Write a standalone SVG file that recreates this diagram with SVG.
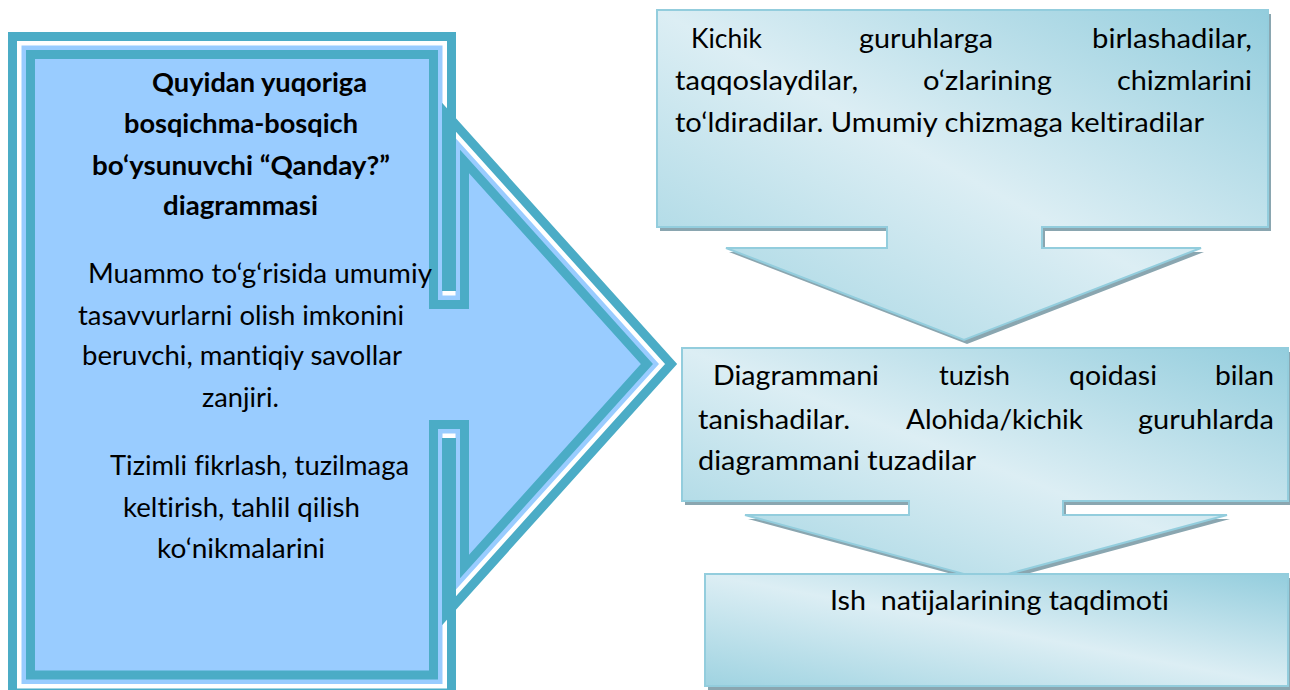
<svg xmlns="http://www.w3.org/2000/svg" width="1290" height="690" viewBox="0 0 1290 690">
<defs>
<linearGradient id="boxGrad" x1="0" y1="1" x2="1" y2="0">
<stop offset="0" stop-color="#9fd3e1"/>
<stop offset="0.5" stop-color="#dcEef4"/>
<stop offset="1" stop-color="#93cddd"/>
</linearGradient>
<style>
.mfill{fill:#99ccff;stroke:none}
.mline{fill:none;stroke:#4bacc6;stroke-width:9;stroke-linejoin:miter;stroke-miterlimit:10}
.box{fill:url(#boxGrad);stroke:#93cddd;stroke-width:2;stroke-linejoin:miter}
.shadow{fill:#8aa6b0;stroke:none}
.t{font-family:Lato,"Open Sans","Liberation Sans",sans-serif;font-size:27px;fill:#000;font-variant-ligatures:none;font-feature-settings:"liga" 0,"clig" 0}
.tb{font-family:Lato,"Open Sans","Liberation Sans",sans-serif;font-size:27px;font-weight:bold;fill:#000;font-variant-ligatures:none;font-feature-settings:"liga" 0,"clig" 0}
</style>
</defs>
<rect width="1290" height="690" fill="#ffffff"/>

<g id="node-main">
<path class="mfill" d="M21.5,45.5 H442.5 V295.5 H455.5 V138 L659,364 L455.5,590 V433.5 H442.5 V684 H21.5 Z"/>
<path class="mline" d="M12.5,36.5 H451.5 V286.5 H446.5 V114.55 L671.1,364 L446.5,613.45 V442.5 H451.5 V693 H12.5 Z"/>
<path class="mline" d="M30.5,54.5 H433.5 V304.5 H464.5 V161.45 L646.9,364 L464.5,566.55 V424.5 H433.5 V675 H30.5 Z"/>
<text class="tb" x="152" y="92" textLength="215" lengthAdjust="spacingAndGlyphs">Quyidan yuqoriga</text>
<text class="tb" x="124" y="133" textLength="234" lengthAdjust="spacingAndGlyphs">bosqichma-bosqich</text>
<text class="tb" x="92" y="175" textLength="298" lengthAdjust="spacingAndGlyphs">bo‘ysunuvchi “Qanday?”</text>
<text class="tb" x="163" y="215" textLength="155" lengthAdjust="spacingAndGlyphs">diagrammasi</text>
<text class="t" x="88" y="283" textLength="344" lengthAdjust="spacingAndGlyphs">Muammo to‘g‘risida umumiy</text>
<text class="t" x="78" y="325" textLength="326" lengthAdjust="spacingAndGlyphs">tasavvurlarni olish imkonini</text>
<text class="t" x="82" y="365" textLength="320" lengthAdjust="spacingAndGlyphs">beruvchi, mantiqiy savollar</text>
<text class="t" x="202" y="407" textLength="77" lengthAdjust="spacingAndGlyphs">zanjiri.</text>
<text class="t" x="110" y="475" textLength="299" lengthAdjust="spacingAndGlyphs">Tizimli fikrlash, tuzilmaga</text>
<text class="t" x="123" y="517" textLength="237" lengthAdjust="spacingAndGlyphs">keltirish, tahlil qilish</text>
<text class="t" x="157" y="558" textLength="168" lengthAdjust="spacingAndGlyphs">ko‘nikmalarini</text>
</g>

<g id="node-step1">
<path class="shadow" transform="translate(3,4)" d="M657,10 H1268 V227 H1042 V248 H1201 L964,340 L726,248 H887 V227 H657 Z"/>
<path class="box" d="M657,10 H1268 V227 H1042 V248 H1201 L964,340 L726,248 H887 V227 H657 Z"/>
<text class="t" y="48"><tspan x="691" textLength="71" lengthAdjust="spacingAndGlyphs">Kichik</tspan><tspan x="859" textLength="134" lengthAdjust="spacingAndGlyphs">guruhlarga</tspan><tspan x="1092" textLength="160" lengthAdjust="spacingAndGlyphs">birlashadilar,</tspan></text>
<text class="t" y="90"><tspan x="675" textLength="183" lengthAdjust="spacingAndGlyphs">taqqoslaydilar,</tspan><tspan x="923" textLength="129" lengthAdjust="spacingAndGlyphs">o‘zlarining</tspan><tspan x="1117" textLength="135" lengthAdjust="spacingAndGlyphs">chizmlarini</tspan></text>
<text class="t" x="675" y="132" textLength="529" lengthAdjust="spacingAndGlyphs">to‘ldiradilar. Umumiy chizmaga keltiradilar</text>
</g>

<g id="node-step2">
<path class="shadow" transform="translate(3,4)" d="M682,348 H1288 V501 H1063 V515 H1227 L986,580 L745,515 H909 V501 H682 Z"/>
<path class="box" d="M682,348 H1288 V501 H1063 V515 H1227 L986,580 L745,515 H909 V501 H682 Z"/>
<text class="t" y="385"><tspan x="713" textLength="166" lengthAdjust="spacingAndGlyphs">Diagrammani</tspan><tspan x="939" textLength="71" lengthAdjust="spacingAndGlyphs">tuzish</tspan><tspan x="1069" textLength="88" lengthAdjust="spacingAndGlyphs">qoidasi</tspan><tspan x="1215" textLength="59" lengthAdjust="spacingAndGlyphs">bilan</tspan></text>
<text class="t" y="429"><tspan x="698" textLength="152" lengthAdjust="spacingAndGlyphs">tanishadilar.</tspan><tspan x="906" textLength="177" lengthAdjust="spacingAndGlyphs">Alohida/kichik</tspan><tspan x="1138" textLength="136" lengthAdjust="spacingAndGlyphs">guruhlarda</tspan></text>
<text class="t" x="698" y="470" textLength="278" lengthAdjust="spacingAndGlyphs">diagrammani tuzadilar</text>
</g>

<g id="node-step3">
<rect class="shadow" x="708" y="578" width="583" height="112"/>
<rect class="box" x="705" y="574" width="583" height="112"/>
<text class="t" x="830" y="610" textLength="339" lengthAdjust="spacingAndGlyphs" xml:space="preserve">Ish  natijalarining taqdimoti</text>
</g>

<g id="connectors"></g>
</svg>
